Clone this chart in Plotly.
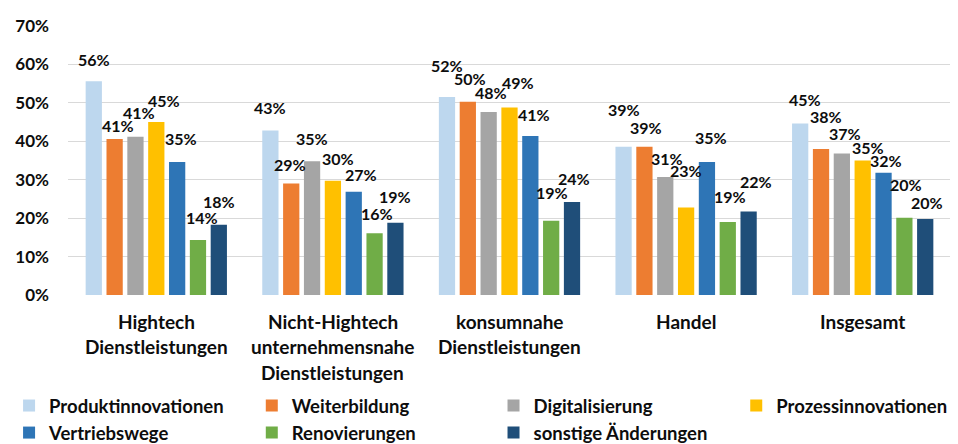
import math
import plotly.graph_objects as go

categories = [
    "Hightech<br>Dienstleistungen",
    "Nicht-Hightech<br>unternehmensnahe<br>Dienstleistungen",
    "konsumnahe<br>Dienstleistungen",
    "Handel",
    "Insgesamt",
]
series_names = [
    "Produktinnovationen", "Weiterbildung", "Digitalisierung", "Prozessinnovationen",
    "Vertriebswege", "Renovierungen", "sonstige Änderungen",
]
produktinnovationen = [55.6, 42.8, 51.5, 38.6, 44.6]
weiterbildung = [40.6, 29.0, 50.3, 38.6, 38.0]
digitalisierung = [41.2, 34.8, 47.6, 30.7, 36.8]
prozessinnovationen = [45.0, 29.7, 48.8, 22.8, 35.0]
vertriebswege = [34.6, 26.9, 41.4, 34.6, 31.8]
renovierungen = [14.3, 16.1, 19.3, 19.0, 20.1]
sonstige = [18.3, 18.8, 24.2, 21.7, 19.8]
y_ticks = [0, 10, 20, 30, 40, 50, 60, 70]
y_ticktext = [f"{v}%" for v in y_ticks]

series_values = [produktinnovationen, weiterbildung, digitalisierung, prozessinnovationen,
                 vertriebswege, renovierungen, sonstige]
colors = ["#BDD7EE", "#ED7D31", "#A5A5A5", "#FFC000", "#2E75B6", "#70AD47", "#1F4E79"]

# label nudges (px) per series x category: gap above bar top, horizontal shift
label_gap = [
    [14, 15, 24, 29, 16],
    [5, 11, 15, 11, 24],
    [16, 15, 12, 11, 12],
    [14, 14, 17, 29, 5],
    [16, 9, 13, 17, 4],
    [15, 12, 20, 17, 25],
    [15, 18, 16, 22, 8],
]
label_dx = [
    [0, 0, 0, 0, 5],
    [3, -1, 2, 2, 5],
    [4, 0, 2, 2, 3],
    [8, 5, 8, 0, 5],
    [4, 7, 4, 4, 2],
    [4, 2, 1, 2, 2],
    [0, 0, 2, 7, 2],
]

FONT = "Lato, 'Open Sans', Arial, sans-serif"
TXT = "#0d0d0d"
BARGAP = 0.174
n_series = len(series_names)

W, H = 950, 436  # page body has an 8px margin in the 958x444 window
ML, MR, MT, MB = 59, 7, 13, 149
PW = W - ML - MR
legend_ids = ["legend", "legend2", "legend3", "legend4"]
legend_x_px = [0, 243, 485, 728]
legend_top_px = 379

fig = go.Figure()
for i, (name, vals, col) in enumerate(zip(series_names, series_values, colors)):
    fig.add_trace(go.Bar(
        name=name, x=categories, y=vals, marker=dict(color=col, line=dict(width=0)),
        hoverinfo="skip", legend=legend_ids[i % 4],
    ))

annotations = []
slot = (1 - BARGAP) / n_series
for i, vals in enumerate(series_values):
    for k, v in enumerate(vals):
        xpos = k - (1 - BARGAP) / 2 + (i + 0.5) * slot
        annotations.append(dict(
            x=xpos, y=v, xref="x", yref="y", text=f"{math.floor(v + 0.5)}%",
            showarrow=False, yanchor="bottom", xanchor="center",
            yshift=label_gap[i][k] - 3.5, xshift=label_dx[i][k],
            font=dict(family=FONT, size=16, color=TXT, weight=700),
        ))

# category labels (one annotation per line for Excel-like line spacing)
for k, cat in enumerate(categories):
    for j, line in enumerate(cat.split("<br>")):
        annotations.append(dict(
            x=k, y=0, xref="x", yref="paper", text=line, showarrow=False,
            yanchor="middle", xanchor="center", yshift=-(26 + 25.5 * j),
            font=dict(family=FONT, size=19, color=TXT, weight=700),
        ))

legend_common = dict(
    orientation="v", xref="paper", yref="container", xanchor="left", yanchor="top",
    font=dict(family=FONT, size=18.5, color=TXT, weight=700),
    traceorder="normal", itemclick=False, itemdoubleclick=False,
    bgcolor="rgba(0,0,0,0)", borderwidth=0, tracegroupgap=0,
)
legends = {}
for lid, lx in zip(legend_ids, legend_x_px):
    legends[lid] = dict(legend_common, x=(lx - ML) / PW, y=1 - legend_top_px / H)

fig.update_layout(
    width=W, height=H,
    margin=dict(l=ML, r=MR, t=MT, b=MB, pad=0),
    paper_bgcolor="white", plot_bgcolor="white",
    barmode="group", bargap=BARGAP, bargroupgap=0.22,
    font=dict(family=FONT, size=16, color=TXT),
    showlegend=True,
    annotations=annotations,
    **legends,
)
fig.update_xaxes(showticklabels=False, showline=False, showgrid=False, zeroline=False)
fig.update_yaxes(
    range=[0, 70], tickmode="array", tickvals=y_ticks, ticktext=y_ticktext,
    showgrid=True, gridcolor="#D9D9D9",
    gridwidth=1, zeroline=False, showline=False, ticklabelstandoff=18,
    tickfont=dict(family=FONT, size=17, color=TXT, weight=700),
)

fig.write_html("out.html")
